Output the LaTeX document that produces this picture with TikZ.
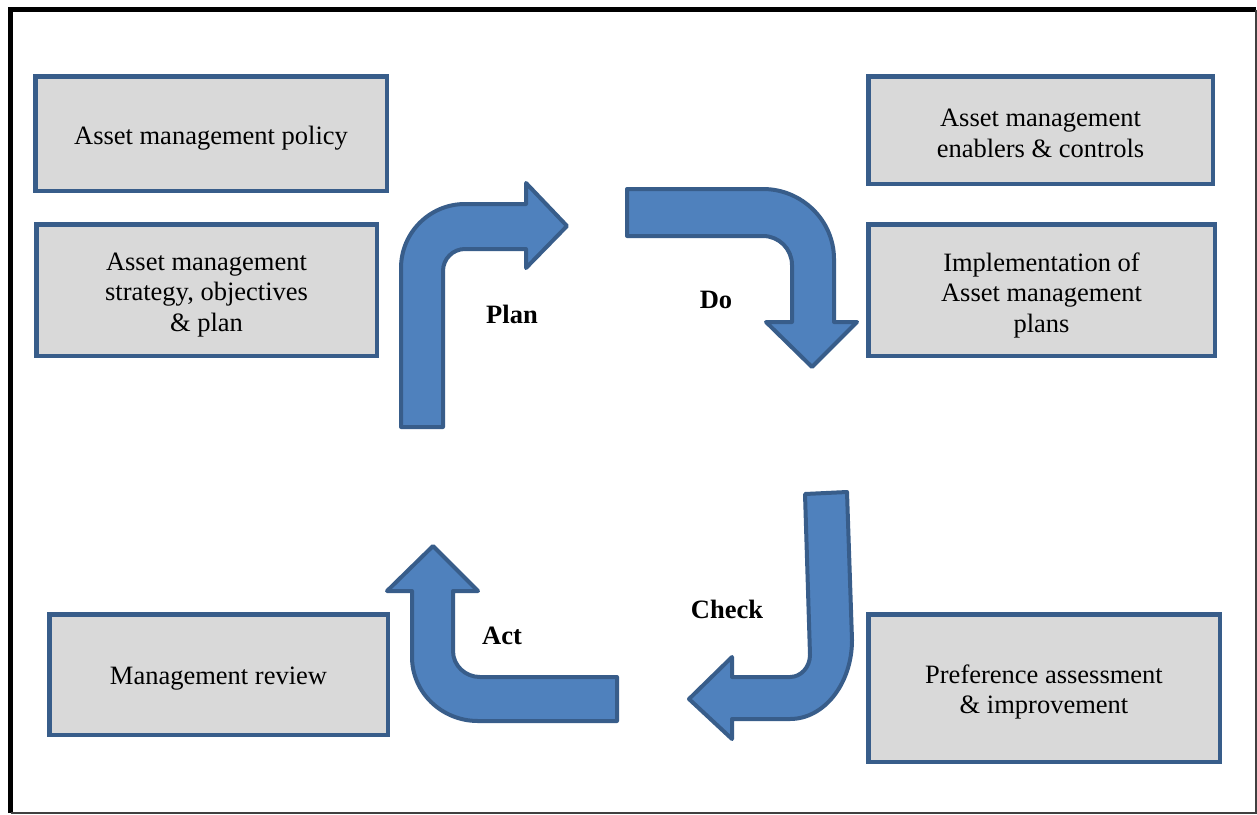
\documentclass[tikz,border=0pt]{standalone}
\usepackage{fontspec}
\setmainfont{Liberation Serif}
\begin{document}
\definecolor{boxfill}{HTML}{D9D9D9}
\definecolor{edgeblue}{HTML}{385D8A}
\definecolor{arrowblue}{HTML}{4F81BD}
\begin{tikzpicture}[x=1pt,y=-1pt,
  infobox/.style={draw=edgeblue, line width=4.5pt, fill=boxfill, inner sep=0pt},
  boxtext/.style={inner sep=0pt, align=center, font=\fontsize{26.5}{30.5}\selectfont},
  bentarrow/.style={draw=edgeblue, line width=4pt, fill=arrowblue, line join=round},
  phase/.style={font=\fontsize{26.5}{30.5}\selectfont\bfseries, inner sep=0pt}]
\useasboundingbox (0,0) rectangle (1257,814);
\fill[white] (0,0) rectangle (1257,814);

% information boxes
\node[infobox, minimum width=351.5pt, minimum height=114.5pt] (policy) at (211,133.5) {};
\node[infobox, minimum width=340.5pt, minimum height=131.5pt] (strategy) at (206.5,290) {};
\node[infobox, minimum width=344.5pt, minimum height=107.5pt] (enablers) at (1040.5,130) {};
\node[infobox, minimum width=346.5pt, minimum height=131.5pt] (implement) at (1041.5,290) {};
\node[infobox, minimum width=338.5pt, minimum height=120.5pt] (review) at (218.5,674.5) {};
\node[infobox, minimum width=351.5pt, minimum height=147.5pt] (assess) at (1044,688) {};

% box texts, set a little below the box centres
\node[boxtext] (policy-t) at ([yshift=-4.5pt]policy.center) {Asset management policy};
\node[boxtext] (strategy-t) at ([yshift=-5pt]strategy.center)
  {Asset management\\strategy, objectives\\\& plan};
\node[boxtext] (enablers-t) at ([yshift=-3.5pt]enablers.center)
  {Asset management\\enablers \& controls};
\node[boxtext] (implement-t) at ([yshift=-5pt]implement.center)
  {Implementation of\\Asset management\\plans};
\node[boxtext] (review-t) at ([yshift=-4.5pt]review.center) {Management review};
\node[boxtext] (assess-t) at ([yshift=-4pt]assess.center)
  {Preference assessment\\\& improvement};

% Plan arrow: up, then right
\draw[bentarrow] (401,427) -- (401,268)
  .. controls (401,232.7) and (429.7,204) .. (465,204)
  -- (526,204) -- (526,183) -- (567,226) -- (526,268) -- (526,249) -- (465,249)
  .. controls (452.8,249) and (443,258.9) .. (443,271)
  -- (443,427) -- cycle;

% Do arrow: right, then down
\draw[bentarrow] (627,189) -- (763,189)
  .. controls (801.7,189) and (834,220.3) .. (834,259)
  -- (834,322) -- (857,322) -- (812,367) -- (766,322) -- (792,322) -- (792,265)
  .. controls (792,249) and (779,236) .. (763,236)
  -- (627,236) -- cycle;

% Check arrow: down, then left
\draw[bentarrow] (805,494) -- (847,492) -- (852,640)
  .. controls (852,683.6) and (824.2,719) .. (790,719)
  -- (732,719) -- (732,739) -- (689,699) -- (732,657) -- (732,677) -- (790,677)
  .. controls (801,677) and (810,667) .. (810,655)
  -- cycle;

% Act arrow: left, then up
\draw[bentarrow] (617,677) -- (480,677)
  .. controls (465.1,677) and (453,665.4) .. (453,651)
  -- (453,591) -- (478,591) -- (433,546) -- (387,591) -- (412,591) -- (412,657)
  .. controls (412,692.3) and (441.5,721) .. (478,721)
  -- (617,721) -- cycle;

% phase labels
\node[phase] (plan) at (512,314) {Plan};
\node[phase] (do) at (716,300) {Do};
\node[phase] (check) at (727,609) {Check};
\node[phase] (act) at (502,636) {Act};

% outer frame
\draw[line width=5pt, black] (10.5,813) -- (10.5,9.5) -- (1256,9.5);
\draw[line width=1.5pt, black!75] (1256,9.5) -- (1256,813) -- (10.5,813);
\end{tikzpicture}
\end{document}
